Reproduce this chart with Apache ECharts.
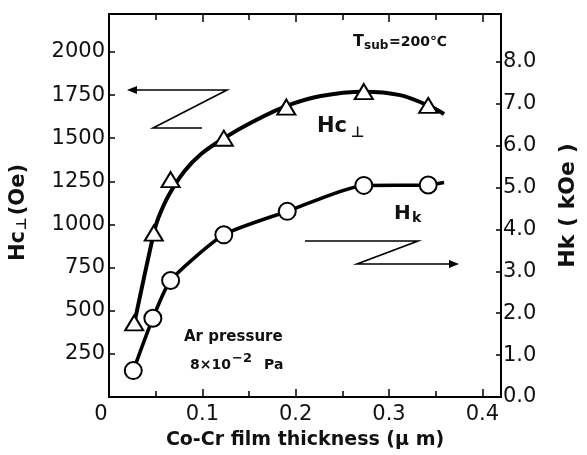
<!DOCTYPE html>
<html>
<head>
<meta charset="utf-8">
<script src="https://cdn.jsdelivr.net/npm/echarts@6/dist/echarts.min.js"></script>
<style>
  html, body { margin: 0; padding: 0; background: #fff; }
  #chart { width: 587px; height: 455px; }
</style>
</head>
<body>
<div id="chart"></div>
<script>
// measured points (triangles: Hc⊥ in Oe, circles: Hk in kOe)
const hcThickness = [0.027, 0.048, 0.066, 0.123, 0.190, 0.273, 0.342]
const hcValues = [430, 950, 1260, 1500, 1680, 1770, 1690]
const hkThickness = [0.026, 0.047, 0.066, 0.123, 0.191, 0.273, 0.342]
const hkValues = [0.63, 1.88, 2.78, 3.87, 4.43, 5.05, 5.06]

// drawn guide curves
const hcCurveX = [0.028, 0.048, 0.053, 0.064, 0.081, 0.099, 0.123, 0.152, 0.189, 0.227, 0.273, 0.312, 0.342, 0.359]
const hcCurveY = [450, 950, 1040, 1170, 1310, 1410, 1500, 1590, 1685, 1745, 1770, 1750, 1690, 1640]
const hkCurveX = [0.026, 0.047, 0.066, 0.123, 0.191, 0.273, 0.342, 0.359]
const hkCurveY = [0.63, 1.88, 2.78, 3.87, 4.43, 5.05, 5.06, 5.12]

// tick labels
const xTickLabels = [0, 0.1, 0.2, 0.3, 0.4]
const leftTickLabels = [250, 500, 750, 1000, 1250, 1500, 1750, 2000]
const rightTickLabels = [0, 1, 2, 3, 4, 5, 6, 7, 8]

const pair = (xs, ys) => xs.map((x, i) => [x, ys[i]])

const chart = echarts.init(document.getElementById('chart'))
const labelFont = { fontFamily: 'DejaVu Sans', fontSize: 21, color: '#111' }
const axisLine = { show: true, onZero: false, lineStyle: { color: '#000', width: 2 } }

const xBase = {
  type: 'value',
  min: 0,
  max: 0.42,
  interval: 0.1,
  axisLine: axisLine,
  axisTick: { show: true, inside: true, length: 8, lineStyle: { color: '#000', width: 1.5 } },
  minorTick: { show: true, splitNumber: 2, length: 6, lineStyle: { color: '#000', width: 1.5 } },
  splitLine: { show: false },
  minorSplitLine: { show: false }
}

chart.setOption({
  animation: false,
  backgroundColor: '#fff',
  grid: { left: 108, right: 85, top: 14, bottom: 57 },
  xAxis: [
    Object.assign({}, xBase, {
      position: 'bottom',
      name: 'Co-Cr film thickness (μ m)',
      nameLocation: 'middle',
      nameGap: 34,
      nameTextStyle: { fontFamily: 'DejaVu Sans', fontWeight: 'bold', fontSize: 19, color: '#111' },
      axisLabel: Object.assign({}, labelFont, {
        margin: 7,
        showMaxLabel: false,
        formatter: v => {
          const hit = xTickLabels.find(t => Math.abs(t - v) < 1e-6)
          if (hit === undefined) return ''
          return hit === 0 ? '{z|0}' : String(hit)
        },
        rich: { z: { fontFamily: 'DejaVu Sans', fontSize: 21, color: '#111', padding: [0, 16, 0, 0] } }
      })
    }),
    Object.assign({}, xBase, {
      position: 'top',
      axisLabel: { show: false }
    })
  ],
  yAxis: [
    {
      type: 'value',
      position: 'left',
      min: 0,
      max: 2220,
      interval: 250,
      name: '{a|Hc}{b|⊥}{a|(Oe)}',
      nameLocation: 'middle',
      nameRotate: 90,
      nameGap: 80,
      nameTextStyle: {
        padding: [0, 14, 0, 0],
        rich: {
          a: { fontFamily: 'DejaVu Sans', fontWeight: 'bold', fontSize: 21, color: '#111' },
          b: { fontFamily: 'DejaVu Sans', fontWeight: 'bold', fontSize: 14, color: '#111', verticalAlign: 'bottom', padding: [6, 2, 0, 1] }
        }
      },
      axisLine: axisLine,
      axisTick: { show: true, inside: true, length: 6, customValues: leftTickLabels, lineStyle: { color: '#000', width: 1.5 } },
      splitLine: { show: false },
      axisLabel: Object.assign({}, labelFont, {
        margin: 4,
        customValues: leftTickLabels,
        formatter: v => String(v)
      })
    },
    {
      type: 'value',
      position: 'right',
      min: 0,
      max: 9.14,
      interval: 1,
      name: 'Hk ( kOe )',
      nameLocation: 'middle',
      nameRotate: 90,
      nameGap: 56,
      nameTextStyle: { fontFamily: 'DejaVu Sans', fontWeight: 'bold', fontSize: 22, color: '#111' },
      axisLine: axisLine,
      axisTick: { show: true, inside: true, length: 5, customValues: rightTickLabels, lineStyle: { color: '#000', width: 1.5 } },
      splitLine: { show: false },
      axisLabel: Object.assign({}, labelFont, {
        margin: 2,
        customValues: rightTickLabels,
        formatter: v => v.toFixed(1)
      })
    }
  ],
  series: [
    {
      name: 'Hc curve',
      type: 'line',
      xAxisIndex: 0,
      yAxisIndex: 0,
      smooth: 0.3,
      showSymbol: false,
      lineStyle: { color: '#000', width: 4 },
      data: pair(hcCurveX, hcCurveY),
      z: 2
    },
    {
      name: 'Hk curve',
      type: 'line',
      xAxisIndex: 0,
      yAxisIndex: 1,
      smooth: 0.2,
      showSymbol: false,
      lineStyle: { color: '#000', width: 3.5 },
      data: pair(hkCurveX, hkCurveY),
      z: 2
    },
    {
      name: 'Hc⊥',
      type: 'scatter',
      xAxisIndex: 0,
      yAxisIndex: 0,
      symbol: 'triangle',
      symbolSize: [18, 15],
      itemStyle: { color: '#fff', borderColor: '#000', borderWidth: 2, opacity: 1 },
      data: pair(hcThickness, hcValues),
      z: 3
    },
    {
      name: 'Hk',
      type: 'scatter',
      xAxisIndex: 0,
      yAxisIndex: 1,
      symbol: 'circle',
      symbolSize: 17,
      itemStyle: { color: '#fff', borderColor: '#000', borderWidth: 2, opacity: 1 },
      data: pair(hkThickness, hkValues),
      z: 3
    }
  ],
  graphic: [
    // Hc arrow -> left axis
    { type: 'polyline', shape: { points: [[202, 128], [153, 128], [227, 90], [132, 90]] }, style: { stroke: '#000', lineWidth: 1.6, fill: null } },
    { type: 'polygon', shape: { points: [[127, 90], [137, 86], [137, 94]] }, style: { fill: '#000' } },
    // Hk arrow -> right axis
    { type: 'polyline', shape: { points: [[305, 241], [418, 241], [357, 264], [453, 264]] }, style: { stroke: '#000', lineWidth: 1.6, fill: null } },
    { type: 'polygon', shape: { points: [[459, 264], [449, 260], [449, 268]] }, style: { fill: '#000' } },
    // labels
    { type: 'text', left: 317, top: 116, style: { text: 'Hc', font: 'bold 21px "DejaVu Sans"', fill: '#111' } },
    { type: 'text', left: 351, top: 126, style: { text: '⊥', font: 'bold 15px "DejaVu Sans"', fill: '#111' } },
    { type: 'text', left: 394, top: 204, style: { text: 'H', font: 'bold 20px "DejaVu Sans"', fill: '#111' } },
    { type: 'text', left: 412, top: 211, style: { text: 'k', font: 'bold 14px "DejaVu Sans"', fill: '#111' } },
    { type: 'text', left: 353, top: 34, style: { text: 'T', font: 'bold 16px "DejaVu Sans"', fill: '#111' } },
    { type: 'text', left: 364, top: 40, style: { text: 'sub', font: 'bold 12px "DejaVu Sans"', fill: '#111' } },
    { type: 'text', left: 389, top: 35, style: { text: '=200℃', font: 'bold 14px "DejaVu Sans"', fill: '#111' } },
    { type: 'text', left: 184, top: 330, style: { text: 'Ar pressure', font: 'bold 15px "DejaVu Sans"', fill: '#111' } },
    { type: 'text', left: 190, top: 358, style: { text: '8×10', font: 'bold 14px "DejaVu Sans"', fill: '#111' } },
    { type: 'text', left: 232, top: 352, style: { text: '−2', font: 'bold 13px "DejaVu Sans"', fill: '#111' } },
    { type: 'text', left: 264, top: 358, style: { text: 'Pa', font: 'bold 14px "DejaVu Sans"', fill: '#111' } }
  ]
})
</script>
</body>
</html>
